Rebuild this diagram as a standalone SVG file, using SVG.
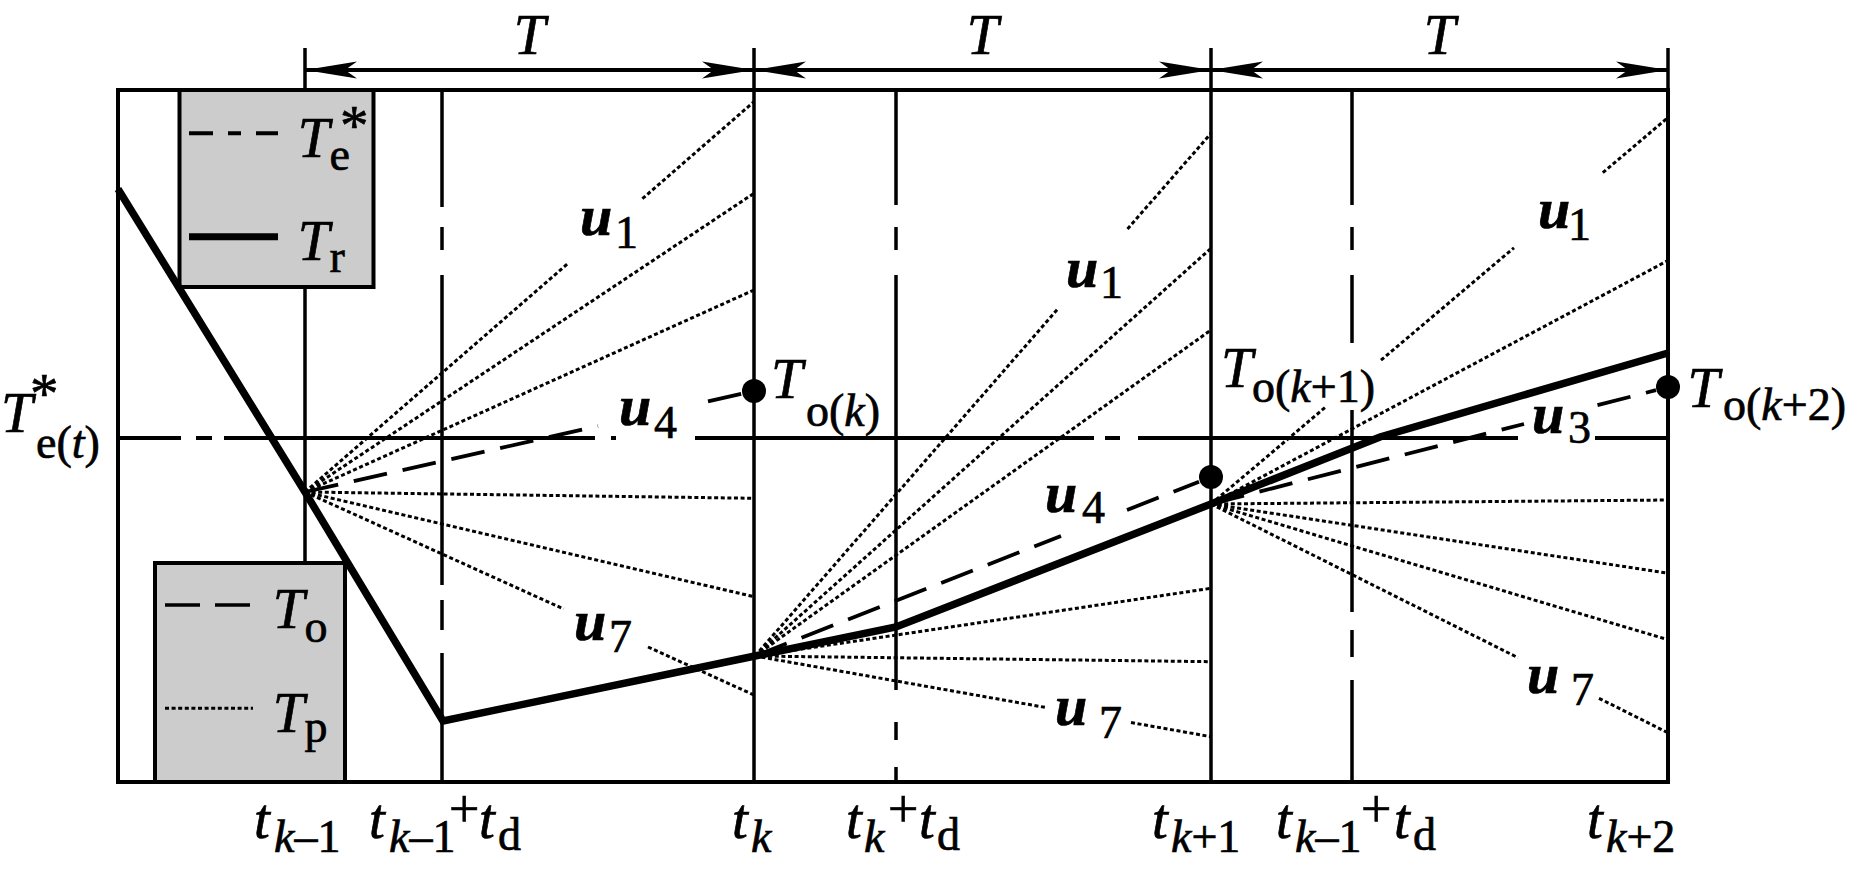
<svg xmlns="http://www.w3.org/2000/svg" width="1856" height="869" viewBox="0 0 1856 869" font-family="'Liberation Serif', 'Times New Roman', serif">
<defs>
<path id="ah" d="M0,0 L-52,-8.5 L-40,0 L-52,8.5 Z" fill="#000"/>
<style>
.frame{fill:none;stroke:#000;stroke-width:4}
.grid{stroke:#000;stroke-width:3.5;fill:none}
.sp{stroke:#000;stroke-width:4;fill:none}
.tr{stroke:#000;stroke-width:7.5;fill:none;stroke-linejoin:miter}
.to{stroke:#000;stroke-width:3.8;fill:none;stroke-dasharray:34 16}
.tp{stroke:#000;stroke-width:3;fill:none;stroke-dasharray:4 2.6}
.leg{fill:#cccccc;stroke:#000;stroke-width:4}
.dim{stroke:#000;stroke-width:4;fill:none}
text{font-family:'Liberation Serif','Times New Roman',serif;fill:#000;stroke:#000;stroke-width:0.7}
.it{font-style:italic}
.n{font-style:normal}
.m{font-size:57px}
.s{font-size:46px}
.p{font-style:normal;font-size:54px}
.u{font-weight:bold;font-style:italic;font-size:58px}
.d{font-weight:normal;font-style:normal;font-size:46px}
</style>
</defs>
<rect width="1856" height="869" fill="#fff"/>

<g id="grid">
<path class="grid" d="M305,48V782 M754,48V782 M1211,48V782 M1668,48V782"/>
<path class="grid" d="M442,90V207 M442,227V250 M442,275V585 M442,600V630 M442,653V782"/>
<path class="grid" d="M896,90V205 M896,227V250 M896,275V690 M896,722V740 M896,767V782"/>
<path class="grid" d="M1352,90V205 M1352,227V250 M1352,275V343 M1352,410V612 M1352,630V657 M1352,680V782"/>
<rect class="frame" x="118" y="90" width="1550" height="692"/>
</g>

<g id="dimension">
<path class="dim" d="M305,70H1668"/>
<use href="#ah" transform="translate(305,70) scale(-1,1)"/>
<use href="#ah" transform="translate(754,70)"/>
<use href="#ah" transform="translate(754,70) scale(-1,1)"/>
<use href="#ah" transform="translate(1211,70)"/>
<use href="#ah" transform="translate(1211,70) scale(-1,1)"/>
<use href="#ah" transform="translate(1668,70)"/>
<text class="it m" x="529.5" y="54" text-anchor="middle">T</text>
<text class="it m" x="982.5" y="54" text-anchor="middle">T</text>
<text class="it m" x="1439.5" y="54" text-anchor="middle">T</text>
</g>

<g id="setpoint">
<path class="sp" d="M118,438H181 M196,438H212 M224,438H595 M611,438H616 M695,438H1094 M1105,438H1120 M1138,438H1518 M1595,438H1668"/>
<text class="it m" x="1" y="432">T<tspan class="n s" x="36" y="458">e(</tspan><tspan class="s">t</tspan><tspan class="n s">)</tspan></text>
<text class="n m" x="30" y="413">*</text>
</g>

<g id="legend-1">
<rect class="leg" x="179.5" y="90" width="194" height="197"/>
<path stroke="#000" stroke-width="4" d="M189,133.3H213 M228,133.3H241 M256,133.3H278"/>
<path stroke="#000" stroke-width="7" d="M189,236.7H278"/>
<text class="it m" x="297.7" y="156.7">T<tspan class="n s" y="170">e</tspan></text>
<text class="n m" x="340" y="145">*</text>
<text class="it m" x="297.7" y="260">T<tspan class="n s" y="271.7">r</tspan></text>
</g>

<g id="legend-2">
<rect class="leg" x="155" y="563" width="190" height="219"/>
<path stroke="#000" stroke-width="3.5" d="M165,605H200 M215,605H250"/>
<path class="tp" d="M165,708.3H253"/>
<text class="it m" x="272.7" y="628.3">T<tspan class="n s" y="641.7">o</tspan></text>
<text class="it m" x="272.7" y="731.7">T<tspan class="n s" y="742">p</tspan></text>
</g>

<g id="connectors">
<g id="fan-1">
<path class="tp" d="M305,492L568.7,262.8 M642.4,198.7L754,101.7"/>
<path class="tp" d="M305,492L754,193.3"/>
<path class="tp" d="M305,492L754,290"/>
<path class="to" d="M305,492L598,426.1 M708,401.4L742,393.7"/>
<path class="tp" d="M305,492L754,498.3"/>
<path class="tp" d="M305,492L754,596.7"/>
<path class="tp" d="M305,492L563.7,609 M648,647L754,695"/>
</g>
<g id="fan-2">
<path class="tp" d="M755,656L1057.4,309.4 M1127.5,229L1211,133.3"/>
<path class="tp" d="M755,656L1211,248.3"/>
<path class="tp" d="M755,656L1211,330"/>
<path class="to" d="M755,656L1061,535.9 M1127,510L1199,481.7"/>
<path class="tp" d="M755,656L1211,588.3"/>
<path class="tp" d="M755,656L1211,661.7"/>
<path class="tp" d="M755,656L1046.4,707.6 M1131,722.5L1211,736.7"/>
</g>
<g id="fan-3">
<path class="tp" d="M1211,504L1326.5,406.3 M1381,360.2L1514,247.8 M1602.8,172.7L1668,117.5"/>
<path class="tp" d="M1211,504L1668,260.5"/>
<path class="to" d="M1211,504L1524,424 M1597.5,405.2L1656,390.2"/>
<path class="tp" d="M1211,504L1668,500"/>
<path class="tp" d="M1211,504L1668,573.2"/>
<path class="tp" d="M1211,504L1668,639.7"/>
<path class="tp" d="M1211,504L1518,657.7 M1599,698.3L1668,732.8"/>
</g>
<path id="Tr" class="tr" d="M118,189 L305,492 L443,721 L755,656 L896,627 L1211,504 L1380,437 L1668,353"/>
</g>

<g id="points">
<circle cx="754" cy="391" r="12"/>
<circle cx="1211" cy="477" r="12"/>
<circle cx="1668" cy="387" r="12"/>
<text class="it m" x="771" y="398">T<tspan class="n s" x="806" y="426">o(</tspan><tspan class="s">k</tspan><tspan class="n s">)</tspan></text>
<text class="it m" x="1221" y="386.7">T<tspan class="n s" x="1252" y="401.7">o(</tspan><tspan class="s">k</tspan><tspan class="n s">+1)</tspan></text>
<text class="it m" x="1687.6" y="406.7">T<tspan class="n s" x="1723" y="420">o(</tspan><tspan class="s">k</tspan><tspan class="n s">+2)</tspan></text>
</g>

<g id="u-labels">
<text class="u" x="580" y="235">u<tspan class="d" x="615" y="248">1</tspan></text>
<text class="u" x="1066" y="287">u<tspan class="d" x="1100" y="298">1</tspan></text>
<text class="u" x="1538" y="228">u<tspan class="d" x="1568" y="240">1</tspan></text>
<text class="u" x="619" y="425">u<tspan class="d" x="654" y="438">4</tspan></text>
<text class="u" x="1045" y="512">u<tspan class="d" x="1082" y="523">4</tspan></text>
<text class="u" x="1532" y="433">u<tspan class="d" x="1568" y="443">3</tspan></text>
<text class="u" x="574" y="640">u<tspan class="d" x="609" y="652">7</tspan></text>
<text class="u" x="1055" y="725">u<tspan class="d" x="1099" y="738">7</tspan></text>
<text class="u" x="1527" y="693">u<tspan class="d" x="1571" y="705">7</tspan></text>
</g>

<g id="time-labels">
<text class="it m" x="254" y="838">t<tspan class="s" x="274" y="852">k</tspan><tspan class="n s">–1</tspan></text>
<text class="it m" x="369" y="838">t<tspan class="s" x="389" y="852">k</tspan><tspan class="n s">–1</tspan><tspan class="p" x="449" y="827">+</tspan><tspan x="479" y="838">t</tspan><tspan class="n s" x="498" y="850">d</tspan></text>
<text class="it m" x="732" y="838">t<tspan class="s" x="751" y="852">k</tspan></text>
<text class="it m" x="846" y="838">t<tspan class="s" x="864" y="852">k</tspan><tspan class="p" x="888" y="827">+</tspan><tspan x="919" y="838">t</tspan><tspan class="n s" x="937" y="850">d</tspan></text>
<text class="it m" x="1152" y="838">t<tspan class="s" x="1171" y="852">k</tspan><tspan class="n s">+1</tspan></text>
<text class="it m" x="1276" y="838">t<tspan class="s" x="1295" y="852">k</tspan><tspan class="n s">–1</tspan><tspan class="p" x="1361" y="827">+</tspan><tspan x="1394" y="838">t</tspan><tspan class="n s" x="1413" y="850">d</tspan></text>
<text class="it m" x="1587" y="838">t<tspan class="s" x="1606" y="852">k</tspan><tspan class="n s">+2</tspan></text>
</g>
</svg>
